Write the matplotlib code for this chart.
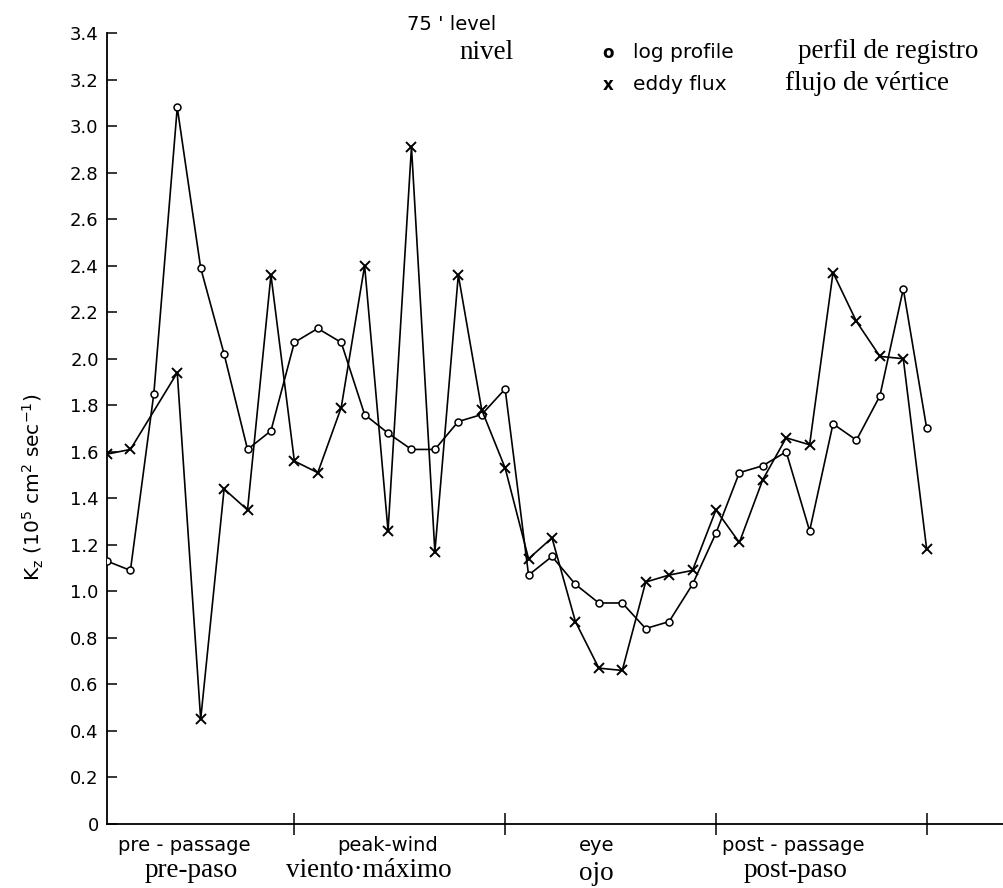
import matplotlib
matplotlib.use("Agg")
import matplotlib.pyplot as plt
from matplotlib.transforms import blended_transform_factory

# ---- data ----
log_idx = list(range(36))
log_profile = [1.13, 1.09, 1.85, 3.08, 2.39, 2.02, 1.61, 1.69, 2.07, 2.13,
               2.07, 1.76, 1.68, 1.61, 1.61, 1.73, 1.76, 1.87, 1.07, 1.15,
               1.03, 0.95, 0.95, 0.84, 0.87, 1.03, 1.25, 1.51, 1.54, 1.60,
               1.26, 1.72, 1.65, 1.84, 2.30, 1.70]
eddy_idx = [0, 1] + list(range(3, 36))
eddy_flux = [1.59, 1.61, 1.94, 0.45, 1.44, 1.35, 2.36, 1.56, 1.51, 1.79,
             2.40, 1.26, 2.91, 1.17, 2.36, 1.78, 1.53, 1.14, 1.23, 0.87,
             0.67, 0.66, 1.04, 1.07, 1.09, 1.35, 1.21, 1.48, 1.66, 1.63,
             2.37, 2.16, 2.01, 2.00, 1.18]
yticks = [0, 0.2, 0.4, 0.6, 0.8, 1.0, 1.2, 1.4, 1.6, 1.8, 2.0, 2.2, 2.4,
          2.6, 2.8, 3.0, 3.2, 3.4]
ytick_labels = ["0", "0.2", "0.4", "0.6", "0.8", "1.0", "1.2", "1.4", "1.6",
                "1.8", "2.0", "2.2", "2.4", "2.6", "2.8", "3.0", "3.2", "3.4"]
phase_ticks = [8, 17, 26, 35]
phase_en = ["pre - passage", "peak-wind", "eye", "post - passage"]
phase_es = ["pre-paso", "viento\u00b7m\u00e1ximo", "ojo", "post-paso"]
phase_en_x = [3.3, 12.0, 20.9, 29.3]
phase_es_x = [3.6, 11.2, 20.9, 29.4]

W, H = 1004, 888
fig = plt.figure(figsize=(W / 100, H / 100), dpi=100)
ax = fig.add_axes([107 / W, (H - 824) / H, (W - 107) / W, 791 / H])

ax.plot(log_idx, log_profile, color="black", lw=1.2, marker="o",
        markersize=5, markerfacecolor="white", markeredgecolor="black",
        markeredgewidth=1.1, zorder=3)
ax.plot(eddy_idx, eddy_flux, color="black", lw=1.2, marker="x",
        markersize=7, markeredgewidth=1.4, zorder=3)

ax.set_xlim(0, 38.3)
ax.set_ylim(0, 3.4)
for s in ["top", "right"]:
    ax.spines[s].set_visible(False)
ax.spines["left"].set_linewidth(1.3)
ax.spines["bottom"].set_linewidth(1.3)

ax.set_yticks(yticks)
ax.set_yticklabels(ytick_labels)
ax.tick_params(axis="y", direction="in", length=7, width=1.1,
               labelsize=13, pad=6)
ax.set_xticks(phase_ticks)
ax.set_xticklabels([])
ax.tick_params(axis="x", direction="inout", length=16, width=1.1)

tr = blended_transform_factory(ax.transData, fig.transFigure)
for x, t in zip(phase_en_x, phase_en):
    ax.text(x, 1 - 851 / H, t, transform=tr, ha="center", va="baseline",
            fontsize=14, family="DejaVu Sans")
for x, t in zip(phase_es_x, phase_es):
    yy = 877 if t != "ojo" else 880
    ax.text(x, 1 - yy / H, t, transform=tr, ha="center", va="baseline",
            fontsize=19.5, family="Liberation Serif")

def ft(xp, yp, s, **kw):
    fig.text(xp / W, 1 - yp / H, s, va="baseline", **kw)

fig.text(33 / W, 1 - 487 / H, r"K$_\mathrm{z}$ (10$^5$ cm$^2$ sec$^{-1}$)",
         rotation=90, ha="center", va="center", fontsize=14.5,
         family="DejaVu Sans")

ft(407, 30, "75 ' level", ha="left", fontsize=14, family="DejaVu Sans")
ft(459, 59, "nivel", ha="left", fontsize=19.5, family="Liberation Serif")

ft(608, 58, "o", ha="center", fontsize=12, family="DejaVu Sans",
   weight="bold")
ft(633, 58, "log profile", ha="left", fontsize=14.5, family="DejaVu Sans")
ft(798, 58, "perfil de registro", ha="left", fontsize=19.5,
   family="Liberation Serif")
ft(608, 90, "x", ha="center", fontsize=12, family="DejaVu Sans",
   weight="bold")
ft(633, 90, "eddy flux", ha="left", fontsize=14.5, family="DejaVu Sans")
ft(785, 90, "flujo de v\u00e9rtice", ha="left", fontsize=19.5,
   family="Liberation Serif")

fig.savefig("out.png", dpi=100)
